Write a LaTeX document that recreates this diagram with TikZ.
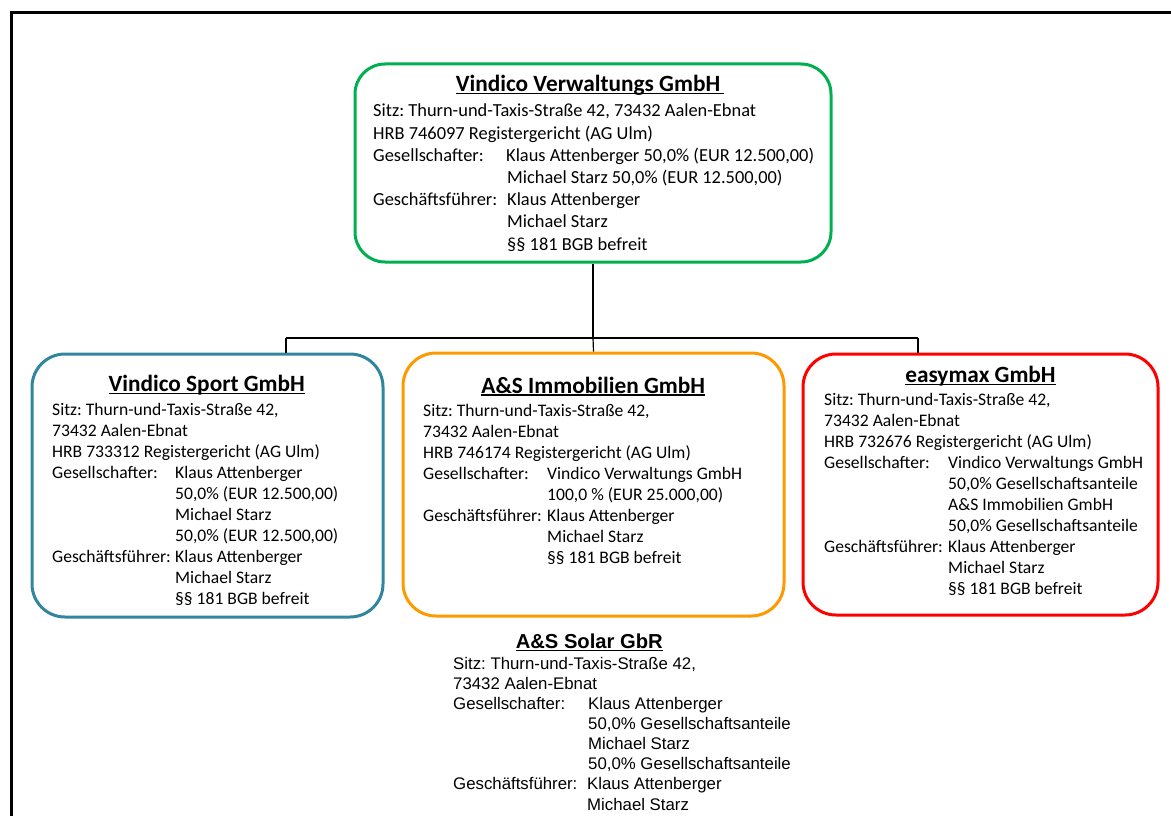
\documentclass[tikz,border=0pt]{standalone}
\usepackage{fontspec}
\setmainfont{Carlito}
\newfontfamily\arialfont{Liberation Sans}
\definecolor{cgreen}{HTML}{00B050}
\definecolor{cteal}{HTML}{31859C}
\definecolor{corange}{HTML}{FF9900}
\definecolor{cred}{HTML}{FF0000}
\frenchspacing
\newcommand\ttl[1]{\setbox0\hbox{#1}\rlap{\rule[-2.6pt]{\wd0}{1.3pt}}\box0}
\newcommand\lnone[1]{\hbox{#1}}
\newcommand\lntwo[3]{\hbox{\makebox[#1][l]{#2}#3}}
\tikzset{
  box/.style={draw, line width=3pt, rounded corners=33pt, inner sep=0pt},
  txt/.style={anchor=base west, inner sep=0pt, font=\frenchspacing},
  title/.style={anchor=base, inner sep=0pt},
  conn/.style={draw=black, line width=1.2pt},
}
\begin{document}
\begin{tikzpicture}[x=1pt,y=-1pt]
\useasboundingbox (0,0) rectangle (1171,816);
\clip (0,0) rectangle (1171,816);
% frame
\draw[line width=3pt] (11,840) -- (11,12.5) -- (1190,12.5);

% boxes
\node[box, draw=cgreen, rounded corners=30pt, minimum width=476pt, minimum height=198pt] (top) at (593,163) {};
\node[box, draw=cteal, minimum width=351pt, minimum height=263pt] (b1) at (207.5,485.5) {};
\node[box, draw=corange, minimum width=381pt, minimum height=263pt] (b2) at (593.5,484.5) {};
\node[box, draw=cred, minimum width=355pt, minimum height=261pt] (b3) at (980.5,484.5) {};

% connectors
\coordinate (busL) at (286,338);
\coordinate (busR) at (918,338);
\draw[conn] (top.south) -- (top.south |- busL);
\draw[conn] (busL) -- (busR);
\draw[conn] (busL) -- (busL |- b1.north);
\draw[conn] (top.south |- busL) -- (b2.north);
\draw[conn] (busR) -- (busR |- b3.north);

% top box text
\node[title] (t0) at (590,91.7) {\fontsize{23.3}{28}\selectfont\bfseries\ttl{Vindico Verwaltungs GmbH\hspace{4pt}}};
\node[txt] (x0) at (373,117) {\vtop{\fontsize{18.4}{22.2}\selectfont\lineskiplimit=-100pt
  \lnone{Sitz: Thurn-und-Taxis-Straße 42, 73432 Aalen-Ebnat}
  \lnone{HRB 746097 Registergericht (AG Ulm)}
  \lntwo{133pt}{Gesellschafter:}{Klaus Attenberger 50,0\% (EUR 12.500,00)}
  \lntwo{134pt}{}{Michael Starz 50,0\% (EUR 12.500,00)}
  \lntwo{134pt}{Geschäftsführer:}{Klaus Attenberger}
  \lntwo{134pt}{}{Michael Starz}
  \lntwo{134pt}{}{§§ 181 BGB befreit}}};

% box 1
\node[title] (t1) at (206.7,391.7) {\fontsize{23.3}{28}\selectfont\bfseries\ttl{Vindico Sport GmbH}};
\node[txt] (x1) at (52,415) {\vtop{\fontsize{17.6}{21}\selectfont\lineskiplimit=-100pt
  \lnone{Sitz: Thurn-und-Taxis-Straße 42,}
  \lnone{73432 Aalen-Ebnat}
  \lnone{HRB 733312 Registergericht (AG Ulm)}
  \lntwo{123pt}{Gesellschafter:}{Klaus Attenberger}
  \lntwo{123pt}{}{50,0\% (EUR 12.500,00)}
  \lntwo{123pt}{}{Michael Starz}
  \lntwo{123pt}{}{50,0\% (EUR 12.500,00)}
  \lntwo{123pt}{Geschäftsführer:}{Klaus Attenberger}
  \lntwo{123pt}{}{Michael Starz}
  \lntwo{123pt}{}{§§ 181 BGB befreit}}};

% box 2
\node[title] (t2) at (593.2,393) {\fontsize{23.3}{28}\selectfont\bfseries\ttl{A\&S Immobilien GmbH}};
\node[txt] (x2) at (423,416) {\vtop{\fontsize{17.6}{21}\selectfont\lineskiplimit=-100pt
  \lnone{Sitz: Thurn-und-Taxis-Straße 42,}
  \lnone{73432 Aalen-Ebnat}
  \lnone{HRB 746174 Registergericht (AG Ulm)}
  \lntwo{124pt}{Gesellschafter:}{Vindico Verwaltungs GmbH}
  \lntwo{124pt}{}{100,0 \% (EUR 25.000,00)}
  \lntwo{124pt}{Geschäftsführer:}{Klaus Attenberger}
  \lntwo{124pt}{}{Michael Starz}
  \lntwo{124pt}{}{§§ 181 BGB befreit}}};

% box 3
\node[title] (t3) at (980.5,382.7) {\fontsize{23.3}{28}\selectfont\bfseries\ttl{easymax GmbH}};
\node[txt] (x3) at (824,405) {\vtop{\fontsize{17.6}{21.1}\selectfont\lineskiplimit=-100pt
  \lnone{Sitz: Thurn-und-Taxis-Straße 42,}
  \lnone{73432 Aalen-Ebnat}
  \lnone{HRB 732676 Registergericht (AG Ulm)}
  \lntwo{124pt}{Gesellschafter:}{Vindico Verwaltungs GmbH}
  \lntwo{124pt}{}{50,0\% Gesellschaftsanteile}
  \lntwo{124pt}{}{A\&S Immobilien GmbH}
  \lntwo{124pt}{}{50,0\% Gesellschaftsanteile}
  \lntwo{124pt}{Geschäftsführer:}{Klaus Attenberger}
  \lntwo{124pt}{}{Michael Starz}
  \lntwo{124pt}{}{§§ 181 BGB befreit}}};

% A&S Solar GbR (no box)
\node[title] (t4) at (589.3,648.3) {\arialfont\fontsize{20.2}{24}\selectfont\bfseries\ttl{A\&S Solar GbR}};
\node[txt] (x4) at (453,669.3) {\vtop{\arialfont\fontsize{16.8}{20.1}\selectfont\lineskiplimit=-100pt
  \lnone{Sitz: Thurn-und-Taxis-Straße 42,}
  \lnone{73432 Aalen-Ebnat}
  \lntwo{135pt}{Gesellschafter:}{Klaus Attenberger}
  \lntwo{135pt}{}{50,0\% Gesellschaftsanteile}
  \lntwo{135pt}{}{Michael Starz}
  \lntwo{135pt}{}{50,0\% Gesellschaftsanteile}
  \lntwo{134pt}{Geschäftsführer:}{Klaus Attenberger}
  \lntwo{134pt}{}{Michael Starz}}};
\end{tikzpicture}
\end{document}
